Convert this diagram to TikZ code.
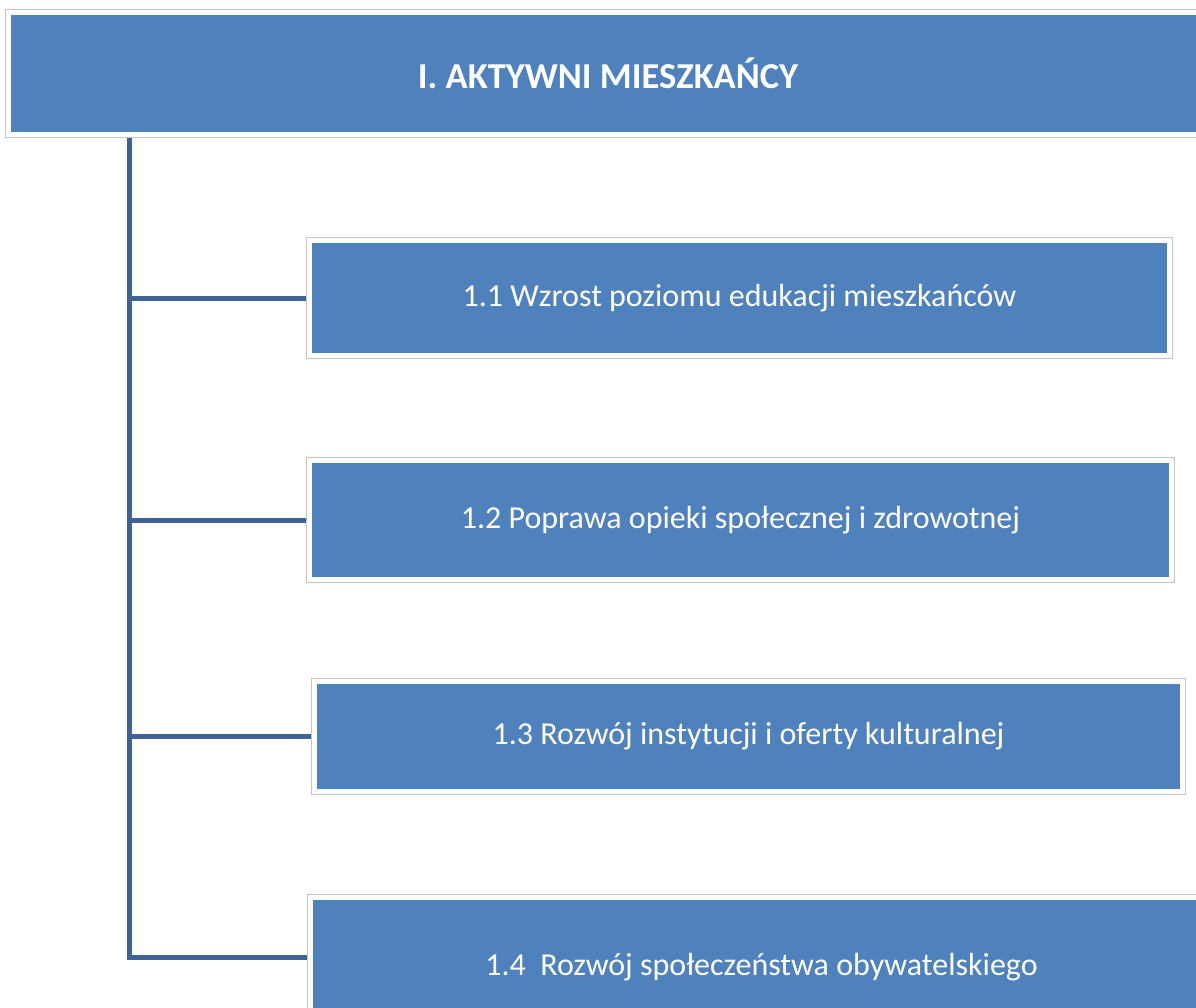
\documentclass[tikz,border=0pt]{standalone}
\usepackage{fontspec}
\setmainfont{Carlito}
\usetikzlibrary{fit,backgrounds}
\definecolor{boxblue}{RGB}{79,129,189}
\definecolor{linkblue}{RGB}{62,99,148}
\definecolor{framegray}{RGB}{196,196,196}
\tikzset{
  bluebox/.style={fill=boxblue, draw=none, text=white, inner sep=0pt, align=center},
  subtext/.style={font=\fontsize{32}{38}\selectfont},
  framebox/.style={fill=white, draw=framegray, line width=1.3pt, inner sep=5pt},
  link/.style={draw=linkblue, line width=5pt},
}
\begin{document}
\begin{tikzpicture}[x=1pt,y=-1pt]
\useasboundingbox (0,0) rectangle (1196,1007);
\node[bluebox, minimum width=1194pt, minimum height=117pt, font=\fontsize{36.5}{42}\selectfont\bfseries] (top) at (608,73.5) {I. AKTYWNI MIESZKAŃCY};
\node[bluebox, subtext, minimum width=855pt, minimum height=110pt] (b1) at (739.5,298) {1.1 Wzrost poziomu edukacji mieszkańców};
\node[bluebox, subtext, minimum width=857pt, minimum height=114pt] (b2) at (740.5,520) {1.2 Poprawa opieki społecznej i zdrowotnej};
\node[bluebox, subtext, minimum width=863pt, minimum height=105pt] (b3) at (748.5,736.5) {1.3 Rozwój instytucji i oferty kulturalnej};
\node[bluebox, subtext, minimum width=897pt, minimum height=134pt] (b4) at (761.5,967) {1.4\ \ Rozwój społeczeństwa obywatelskiego};
\begin{scope}[on background layer]
\node[framebox, fit=(top)] (ftop) {};
\node[framebox, fit=(b1)] (f1) {};
\node[framebox, fit=(b2)] (f2) {};
\node[framebox, fit=(b3)] (f3) {};
\node[framebox, fit=(b4)] (f4) {};
\end{scope}
\coordinate (trunktop) at (129.5,137.5);
\coordinate (trunkbot) at (129.5,957);
\draw[link] (trunktop) -- (trunkbot) -- (trunkbot -| f4.west);
\draw[link] (f1.west -| trunktop) -- (f1.west);
\draw[link] (f2.west -| trunktop) -- (f2.west);
\draw[link] (f3.west -| trunktop) -- (f3.west);
\end{tikzpicture}
\end{document}
